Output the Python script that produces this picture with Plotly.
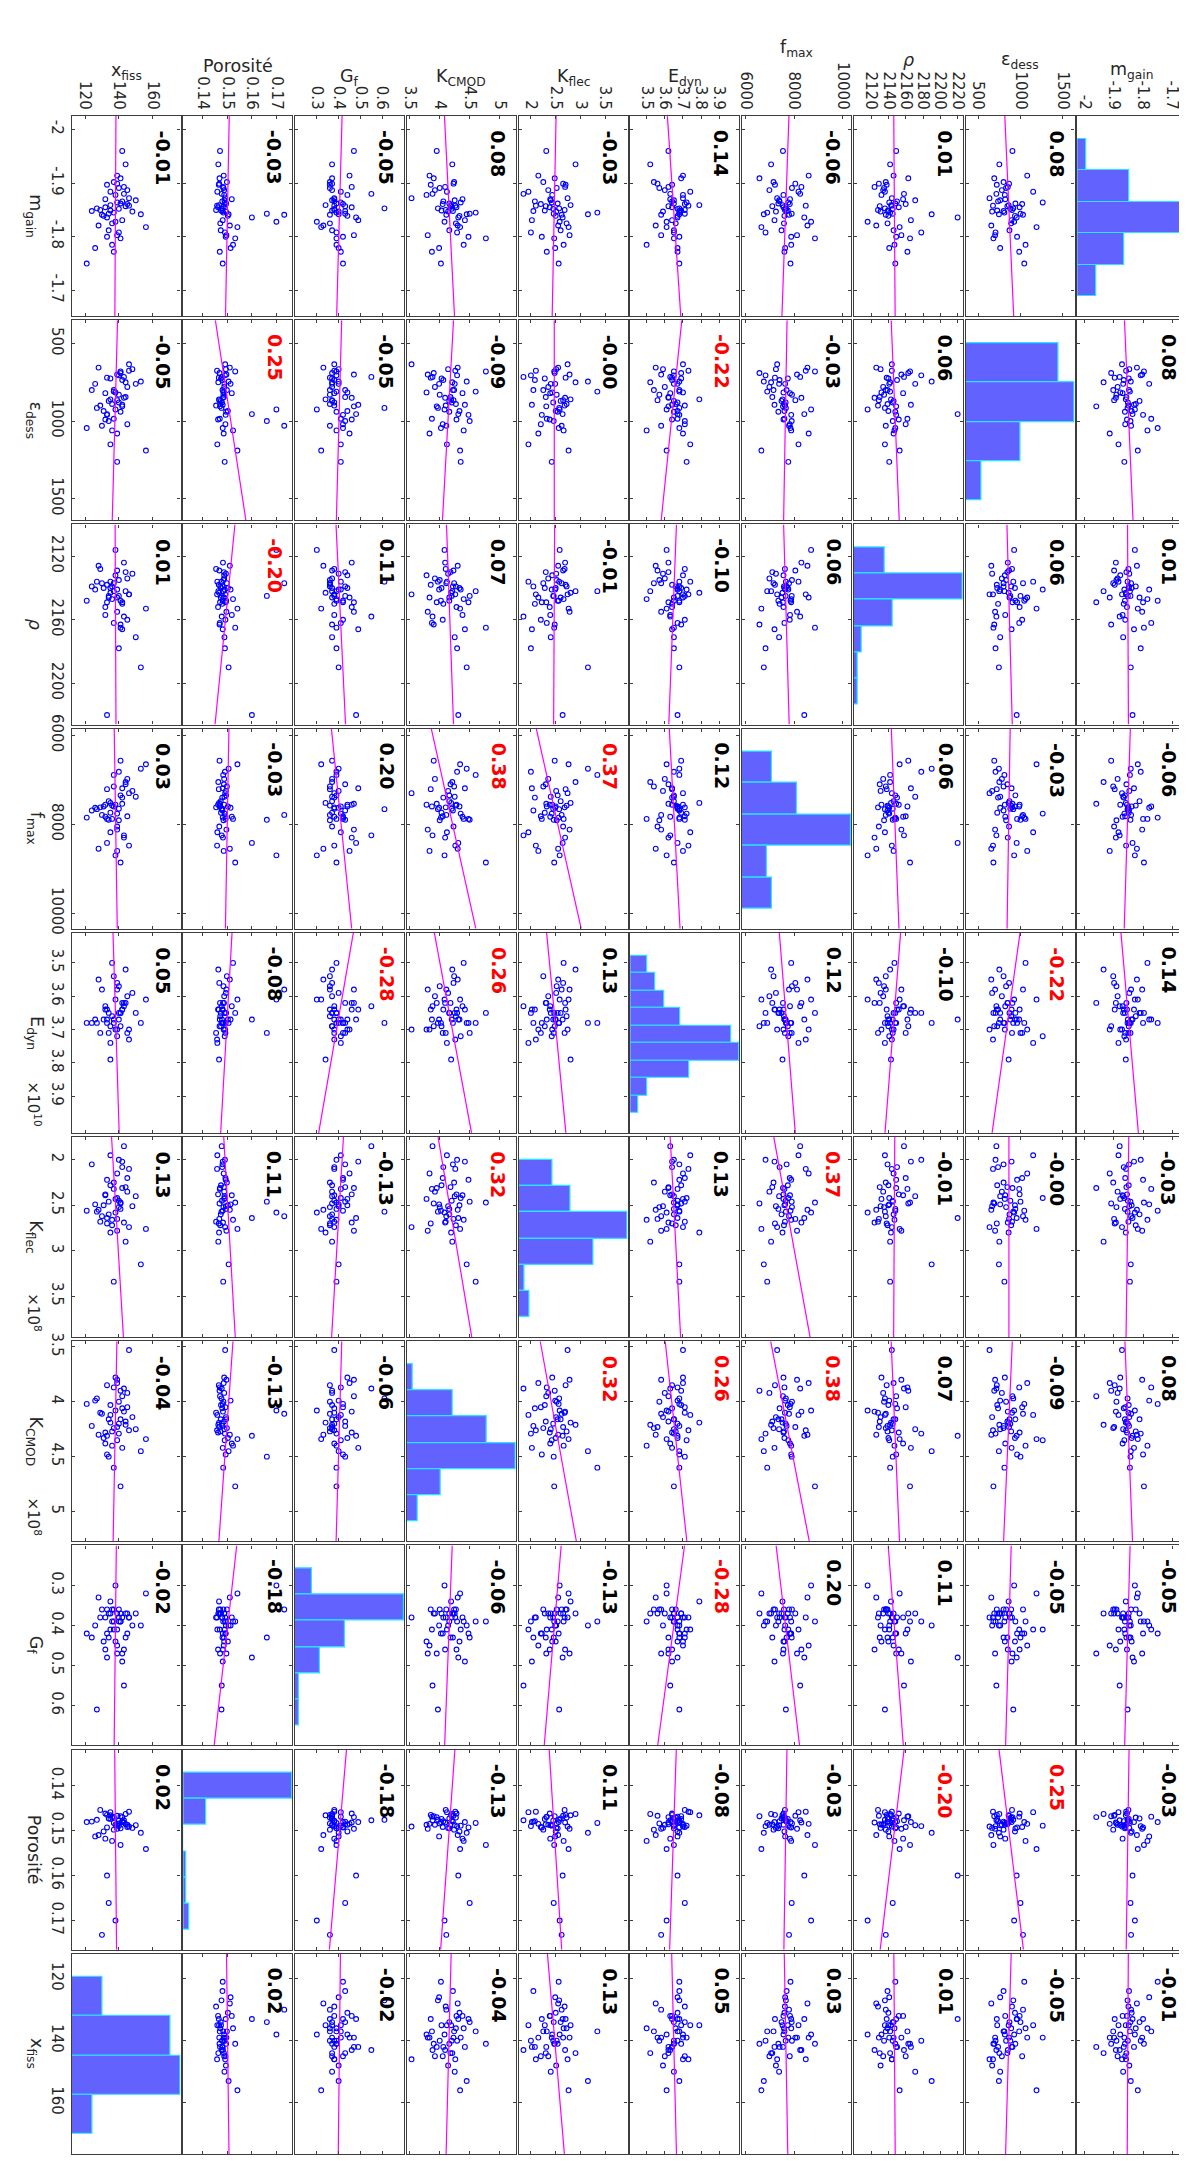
import numpy as np
import plotly.graph_objects as go

W, H = 1187, 2161
FONT = "DejaVu Sans"
TXT = "#262626"

# ---------------- data (one value per specimen) ----------------
var_labels = ["m<sub>gain</sub>", "ε<sub>dess</sub>", "<i>ρ</i>", "f<sub>max</sub>",
              "E<sub>dyn</sub>", "K<sub>flec</sub>", "K<sub>CMOD</sub>", "G<sub>f</sub>",
              "Porosité", "x<sub>fiss</sub>"]

m_gain = [-1.852, -1.897, -1.861, -1.821, -1.845, -1.960, -1.868, -1.884, -1.803, -1.839,
          -1.857, -1.785, -1.909, -1.848, -1.828, -1.872, -1.855, -1.891, -1.842, -1.812,
          -1.864, -1.880, -1.850, -1.902, -1.750, -1.797, -1.859, -1.887, -1.836, -1.866,
          -1.825, -1.847, -1.914, -1.870, -1.935, -1.853, -1.808, -1.843, -1.893, -1.772,
          -1.862, -1.849, -1.818, -1.878, -1.858, -1.841, -1.831, -1.779, -1.899, -1.800]
eps_dess = [880, 720, 1020, 655, 810, 905, 760, 1150, 700, 935,
            845, 1060, 690, 800, 925, 634, 990, 830, 745, 870,
            1263, 715, 900, 800, 1045, 680, 860, 780, 955, 735,
            890, 665, 1080, 820, 750, 915, 705, 1000, 850, 985,
            940, 725, 1190, 815, 675, 1030, 895, 760, 865, 960]
rho = [2145, 2138, 2160, 2126, 2142, 2149, 2171, 2136, 2155, 2140,
       2130, 2147, 2163, 2139, 2116, 2144, 2152, 2135, 2190, 2146,
       2141, 2158, 2128, 2137, 2148, 2165, 2143, 2134, 2220, 2150,
       2139, 2131, 2146, 2157, 2142, 2136, 2178, 2145, 2124, 2162,
       2148, 2140, 2153, 2132, 2144, 2137, 2166, 2141, 2129, 2149]
f_max = [7650, 7210, 7820, 8550, 6890, 7540, 7380, 8180, 8120, 7600,
         7100, 7880, 6570, 7690, 8700, 7300, 7560, 7910, 6750, 7480,
         7760, 8250, 7620, 7150, 7850, 8860, 7520, 6980, 8420, 7400,
         7580, 7250, 8600, 7830, 7050, 7660, 6820, 7900, 8300, 7600,
         7350, 7740, 6650, 7560, 8480, 7790, 7190, 7630, 8050, 7880]
e_dyn_1e10 = [3.67, 3.64, 3.71, 3.55, 3.68, 3.62, 3.65, 3.74, 3.58, 3.67,
              3.62, 3.50, 3.69, 3.68, 3.61, 3.70, 3.64, 3.57, 3.68, 3.65,
              3.72, 3.63, 3.71, 3.54, 3.68, 3.65, 3.79, 3.60, 3.67, 3.64,
              3.66, 3.59, 3.70, 3.63, 3.52, 3.68, 3.65, 3.71, 3.62, 3.67,
              3.65, 3.69, 3.61, 3.70, 3.73, 3.58, 3.64, 3.67, 3.56, 3.68]
k_flec_1e8 = [2.45, 2.70, 2.20, 2.55, 3.34, 2.31, 2.40, 1.95, 2.78, 2.50,
              2.30, 2.66, 2.48, 2.05, 2.58, 2.74, 2.38, 2.52, 3.15, 2.60,
              2.42, 1.85, 2.68, 2.25, 2.56, 2.47, 2.80, 2.35, 2.64, 2.08,
              2.72, 2.51, 2.15, 2.39, 2.90, 2.57, 2.00, 2.46, 2.69, 2.32,
              2.54, 2.28, 2.76, 2.43, 2.10, 2.62, 2.02, 2.49, 2.65, 2.22]
k_cmod_1e8 = [4.20, 3.85, 4.05, 4.30, 4.60, 3.95, 4.25, 4.12, 3.80, 4.33,
              4.18, 4.40, 3.90, 4.22, 4.08, 3.53, 4.28, 4.00, 4.45, 4.16,
              4.35, 3.88, 4.10, 4.24, 4.02, 4.77, 4.19, 3.92, 4.31, 4.06,
              4.27, 4.14, 3.83, 4.38, 4.21, 3.97, 4.29, 4.50, 4.09, 3.87,
              4.16, 4.03, 4.34, 3.78, 4.26, 4.11, 4.42, 3.99, 4.23, 4.48]
g_f = [0.38, 0.36, 0.42, 0.33, 0.39, 0.47, 0.37, 0.41, 0.47, 0.44,
       0.43, 0.39, 0.37, 0.43, 0.30, 0.38, 0.46, 0.36, 0.40, 0.37,
       0.41, 0.55, 0.38, 0.36, 0.42, 0.39, 0.34, 0.37, 0.48, 0.38,
       0.36, 0.40, 0.45, 0.38, 0.37, 0.61, 0.39, 0.43, 0.46, 0.41,
       0.39, 0.37, 0.32, 0.44, 0.38, 0.36, 0.49, 0.40, 0.37, 0.42]
porosite = [0.1478, 0.1465, 0.1492, 0.1510, 0.1483, 0.1470, 0.1488, 0.1459, 0.1496, 0.1502,
            0.1486, 0.1523, 0.1468, 0.1480, 0.1700, 0.1491, 0.1462, 0.1484, 0.1505, 0.1473,
            0.1489, 0.1477, 0.1454, 0.1498, 0.1481, 0.1532, 0.1466, 0.1487, 0.1600, 0.1479,
            0.1471, 0.1494, 0.1485, 0.1518, 0.1463, 0.1476, 0.1490, 0.1661, 0.1482, 0.1469,
            0.1495, 0.1474, 0.1541, 0.1487, 0.1458, 0.1732, 0.1481, 0.1513, 0.1467, 0.1493]
x_fiss = [140, 133, 145, 128, 137, 142, 150, 135, 139, 131,
          144, 136, 141, 124, 138, 146, 132, 140, 153, 134,
          139, 143, 129, 137, 121, 141, 135, 145, 133, 142,
          136, 148, 139, 132, 144, 127, 140, 134, 143, 137,
          141, 135, 156, 138, 146, 130, 142, 126, 139, 133]

# axis limits of each variable
axis_lo = [-2.025, 350, 2100, 5850, 3.41, 1.75, 3.45, 0.20, 0.132, 112]
axis_hi = [-1.652, 1640, 2226, 10350, 4.01, 3.95, 5.27, 0.70, 0.1765, 176.5]

# ticks along the top (horizontal axes) and along the left (vertical axes)
h_tickvals = [[-2, -1.9, -1.8, -1.7], [500, 1000, 1500], [2120, 2140, 2160, 2180, 2200, 2220],
              [6000, 8000, 10000], [3.5, 3.6, 3.7, 3.8, 3.9], [2, 2.5, 3, 3.5],
              [3.5, 4, 4.5, 5], [0.3, 0.4, 0.5, 0.6], [0.14, 0.15, 0.16, 0.17], [120, 140, 160]]
h_ticktext = [["-2", "-1.9", "-1.8", "-1.7"], ["500", "1000", "1500"],
              ["2120", "2140", "2160", "2180", "2200", "2220"], ["6000", "8000", "10000"],
              ["3.5", "3.6", "3.7", "3.8", "3.9"], ["2", "2.5", "3", "3.5"],
              ["3.5", "4", "4.5", "5"], ["0.3", "0.4", "0.5", "0.6"],
              ["0.14", "0.15", "0.16", "0.17"], ["120", "140", "160"]]
v_tickvals = [[-2, -1.9, -1.8, -1.7], [500, 1000, 1500], [2120, 2160, 2200],
              [6000, 8000, 10000], [3.5, 3.6, 3.7, 3.8, 3.9], [2, 2.5, 3, 3.5],
              [3.5, 4, 4.5, 5], [0.3, 0.4, 0.5, 0.6], [0.14, 0.15, 0.16, 0.17], [120, 140, 160]]
v_ticktext = [["-2", "-1.9", "-1.8", "-1.7"], ["500", "1000", "1500"], ["2120", "2160", "2200"],
              ["6000", "8000", "10000"], ["3.5", "3.6", "3.7", "3.8", "3.9"],
              ["2", "2.5", "3", "3.5"], ["3.5", "4", "4.5", "5"], ["0.3", "0.4", "0.5", "0.6"],
              ["0.14", "0.15", "0.16", "0.17"], ["120", "140", "160"]]
exponent_labels = {4: "×10<sup>10</sup>", 5: "×10<sup>8</sup>", 6: "×10<sup>8</sup>"}

hist_nbins = [5, 4, 6, 5, 9, 6, 6, 6, 6, 4]

# correlation coefficients as printed in the panels
corr = [
    [1, 0.08, 0.01, -0.06, 0.14, -0.03, 0.08, -0.05, -0.03, -0.01],
    [0.08, 1, 0.06, -0.03, -0.22, -0.00, -0.09, -0.05, 0.25, -0.05],
    [0.01, 0.06, 1, 0.06, -0.10, -0.01, 0.07, 0.11, -0.20, 0.01],
    [-0.06, -0.03, 0.06, 1, 0.12, 0.37, 0.38, 0.20, -0.03, 0.03],
    [0.14, -0.22, -0.10, 0.12, 1, 0.13, 0.26, -0.28, -0.08, 0.05],
    [-0.03, -0.0, -0.01, 0.37, 0.13, 1, 0.32, -0.13, 0.11, 0.13],
    [0.08, -0.09, 0.07, 0.38, 0.26, 0.32, 1, -0.06, -0.13, -0.04],
    [-0.05, -0.05, 0.11, 0.20, -0.28, -0.13, -0.06, 1, -0.18, -0.02],
    [-0.03, 0.25, -0.20, -0.03, -0.08, 0.11, -0.13, -0.18, 1, 0.02],
    [-0.01, -0.05, 0.01, 0.03, 0.05, 0.13, -0.04, -0.02, 0.02, 1],
]
significant_pairs = [(1, 8), (1, 4), (2, 8), (3, 5), (3, 6), (4, 6), (4, 7), (5, 6)]

data = [np.array(v, dtype=float) for v in
        (m_gain, eps_dess, rho, f_max, e_dyn_1e10, k_flec_1e8, k_cmod_1e8, g_f, porosite, x_fiss)]
NV = len(data)
sig = set(significant_pairs) | {(b, a) for a, b in significant_pairs}

# ---------------- geometry ----------------
COL0, COLP, COLW = 58, 112.7, 110
ROW0, ROWP, ROWH = 94, 206.2, 202
HIST_TOP, HIST_BOT = 0.115, 0.90
TICK_FS = 15
GLYPH_W = {".": 0.318, "-": 0.361}


def xdom(c):
    left = COL0 + c * COLP
    return [left / W, (left + COLW) / W]


def ydom(i):
    top = ROW0 + i * ROWP
    return [1 - (top + ROWH) / H, 1 - top / H]


def aid(n):
    return "" if n == 1 else str(n)


def label_len(labels):
    return max(sum(GLYPH_W.get(ch, 0.636) for ch in s) for s in labels) * TICK_FS


LINE = "#3d3d3d"
base_axis = dict(showgrid=False, zeroline=False, showline=True, linecolor=LINE, linewidth=1.3,
                 tickangle=90, tickfont=dict(family=FONT, size=TICK_FS, color=TXT),
                 tickcolor=LINE, ticklen=3, tickwidth=1)

fig = go.Figure()
layout = {}
annotations = []

for i in range(NV):
    for c in range(NV):
        n = i * NV + c + 1
        hv = NV - 1 - c
        vv = i
        diag = hv == vv
        xa = dict(base_axis, domain=xdom(c), anchor="y" + aid(n),
                  range=[axis_lo[hv], axis_hi[hv]], tickmode="array",
                  tickvals=h_tickvals[hv], ticktext=h_ticktext[hv],
                  showticklabels=(i == 0), side="top" if i == 0 else "bottom",
                  ticks="" if diag else "inside", mirror=True if diag else "ticks")
        ya = dict(base_axis, domain=ydom(i), anchor="x" + aid(n),
                  range=[axis_hi[vv], axis_lo[vv]], tickmode="array",
                  tickvals=v_tickvals[vv], ticktext=v_ticktext[vv],
                  showticklabels=(c == 0), side="left",
                  ticks="" if diag else "inside", mirror=True if diag else "ticks")
        layout["xaxis" + aid(n)] = xa
        layout["yaxis" + aid(n)] = ya

        if diag:
            # keep the framed main subplot alive
            fig.add_trace(go.Scatter(x=[None], y=[None], mode="markers",
                                     xaxis="x" + aid(n), yaxis="y" + aid(n), hoverinfo="skip"))
            counts, edges = np.histogram(data[i], bins=hist_nbins[i])
            centers = (edges[:-1] + edges[1:]) / 2
            span = (edges[-1] - edges[0]) / (HIST_BOT - HIST_TOP)
            hlo = edges[0] - HIST_TOP * span
            hhi = hlo + span
            k = 100 + i + 1
            layout["xaxis%d" % k] = dict(overlaying="x" + aid(n), anchor="y%d" % k,
                                         domain=xdom(c), range=[0, counts.max()], visible=False)
            layout["yaxis%d" % k] = dict(overlaying="y" + aid(n), anchor="x%d" % k,
                                         domain=ydom(i), range=[hhi, hlo], visible=False)
            fig.add_trace(go.Bar(x=counts, y=centers, width=edges[1] - edges[0], base=0,
                                 orientation="h", xaxis="x%d" % k, yaxis="y%d" % k,
                                 marker=dict(color="rgb(98,98,255)",
                                             line=dict(color="rgb(40,230,255)", width=1.2)),
                                 hoverinfo="skip"))
        else:
            fig.add_trace(go.Scatter(x=data[hv], y=data[vv], mode="markers",
                                     xaxis="x" + aid(n), yaxis="y" + aid(n),
                                     marker=dict(symbol="circle-open", size=4.8, color="#0000ff",
                                                 line=dict(width=1.1, color="#0000ff")),
                                     hoverinfo="skip"))
            r = corr[vv][hv]
            slope = r * data[hv].std() / data[vv].std()
            xs = np.array([axis_lo[vv], axis_hi[vv]])
            ys = data[hv].mean() + slope * (xs - data[vv].mean())
            fig.add_trace(go.Scatter(x=ys, y=xs, mode="lines",
                                     xaxis="x" + aid(n), yaxis="y" + aid(n),
                                     line=dict(color="#ff00ff", width=1.2), hoverinfo="skip"))
            annotations.append(dict(
                text="<b>%.2f</b>" % r, textangle=90, showarrow=False,
                xref="x" + aid(n) + " domain", yref="y" + aid(n) + " domain",
                x=1, y=1, xshift=-17.5, yshift=-12, xanchor="center", yanchor="top",
                font=dict(family=FONT, size=19, color="#ff0000" if (vv, hv) in sig else "#000000")))

    # row titles on the left
    annotations.append(dict(text=var_labels[i], textangle=90, showarrow=False,
                            xref="paper", yref="y" + aid(i * NV + 1) + " domain",
                            x=21 / W, y=0.5, xanchor="center", yanchor="middle",
                            font=dict(family=FONT, size=17.5, color=TXT)))
    if i in exponent_labels:
        annotations.append(dict(text=exponent_labels[i], textangle=90, showarrow=False,
                                xref="paper", yref="y" + aid(i * NV + 1) + " domain",
                                x=20 / W, y=0, yshift=4, xanchor="center", yanchor="bottom",
                                font=dict(family=FONT, size=15, color=TXT)))

# column titles on top: the longer the rotated tick labels, the higher the title
for c in range(NV):
    hv = NV - 1 - c
    center_px = 84 - 1.22 * label_len(h_ticktext[hv])
    annotations.append(dict(text=var_labels[hv], showarrow=False,
                            xref="x" + aid(c + 1) + " domain", yref="paper",
                            x=0.5, y=1 - center_px / H, xanchor="center", yanchor="middle",
                            font=dict(family=FONT, size=17.5, color=TXT)))

fig.update_layout(**layout)
fig.update_layout(width=W, height=H, autosize=False, showlegend=False,
                  margin=dict(l=0, r=0, t=0, b=0, pad=0),
                  paper_bgcolor="white", plot_bgcolor="white",
                  font=dict(family=FONT, color=TXT), annotations=annotations,
                  bargap=0)
fig.write_html("out.html")
